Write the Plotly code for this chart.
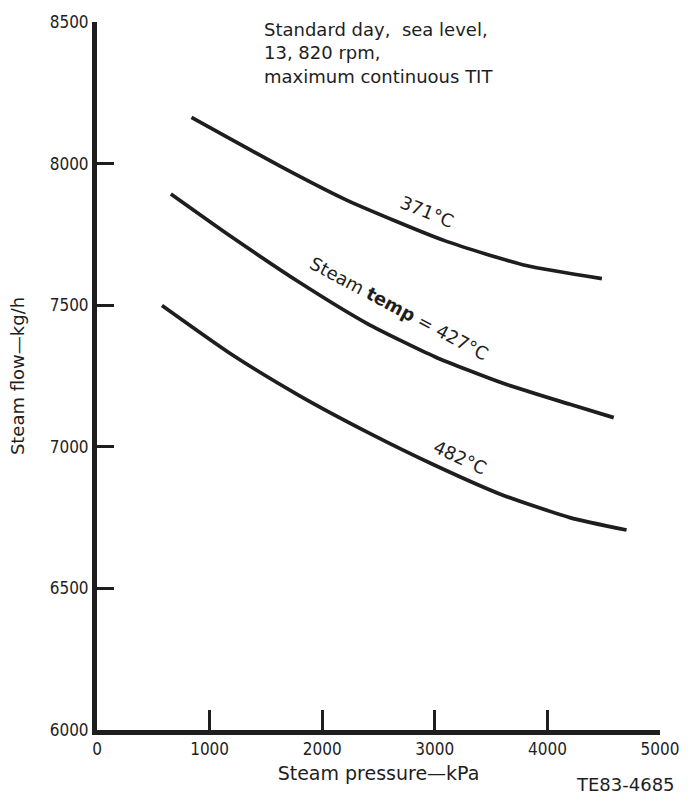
import plotly.graph_objects as go

# Steam pressure (kPa) vs steam flow (kg/h) for three steam temperatures
p_371 = [839, 1626, 2212, 3086, 3811, 4484]
f_371 = [8163, 7991, 7872, 7728, 7640, 7594]

p_427 = [656, 1200, 1800, 2400, 3000, 3600, 4200, 4589]
f_427 = [7893, 7740, 7580, 7435, 7318, 7225, 7150, 7103]

p_482 = [577, 1200, 1800, 2400, 3000, 3600, 4200, 4703]
f_482 = [7499, 7325, 7180, 7052, 6935, 6830, 6750, 6706]

x_ticks = [0, 1000, 2000, 3000, 4000, 5000]
y_ticks = [6000, 6500, 7000, 7500, 8000, 8500]

TICKFONT = "DejaVu Sans Condensed, DejaVu Sans, sans-serif"
FONT = "DejaVu Sans, sans-serif"
INK = "#1e1e1e"

fig = go.Figure()
for xs, ys in [(p_371, f_371), (p_427, f_427), (p_482, f_482)]:
    fig.add_trace(go.Scatter(x=xs, y=ys, mode="lines",
                             line=dict(color=INK, width=3.7, shape="spline", smoothing=0.6),
                             showlegend=False, hoverinfo="skip"))

fig.update_layout(
    width=691, height=802,
    margin=dict(l=97, r=22, t=18, b=72),
    paper_bgcolor="white", plot_bgcolor="white",
    font=dict(family=TICKFONT, size=17, color=INK),
    xaxis=dict(range=[0, 5000], tickvals=x_ticks, ticks="inside", ticklen=20, tickwidth=2.5,
               tickcolor=INK, showline=True, linewidth=5, linecolor=INK, showgrid=False,
               zeroline=False, title=dict(text="Steam pressure\u2014kPa", standoff=10,
               font=dict(family=FONT, size=19))),
    yaxis=dict(range=[6000, 8500], tickvals=y_ticks, ticks="inside", ticklen=17, tickwidth=2.5,
               tickcolor=INK, showline=True, linewidth=5, linecolor=INK, showgrid=False,
               zeroline=False, title=dict(text="Steam flow\u2014kg/h", standoff=22,
               font=dict(family=FONT, size=18))),
)

ann = [
    dict(x=2928, y=7830, text="371°C", textangle=22),
    dict(x=2684, y=7490, text="Steam <b>temp</b> = 427°C", textangle=28),
    dict(x=3226, y=6962, text="482°C", textangle=25),
]
for a in ann:
    fig.add_annotation(x=a["x"], y=a["y"], xref="x", yref="y", text=a["text"],
                       textangle=a["textangle"], showarrow=False,
                       font=dict(family=FONT, size=18, color=INK))

fig.add_annotation(xref="paper", yref="paper", x=(265 - 97) / 572, y=(730 - 13) / 712,
                   xanchor="left", yanchor="top", align="left", showarrow=False,
                   text="Standard day,  sea level,<br>13, 820 rpm,<br>maximum continuous TIT",
                   font=dict(family=FONT, size=18, color=INK))

fig.add_annotation(xref="paper", yref="paper", x=(686 - 97) / 572, y=-(785 - 730) / 712,
                   xanchor="right", yanchor="middle",
                   showarrow=False, text="TE83-4685",
                   font=dict(family=FONT, size=18, color=INK))

fig.write_html("out.html")
